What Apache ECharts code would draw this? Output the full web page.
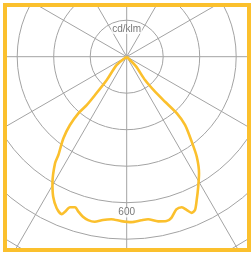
<!DOCTYPE html>
<html>
<head>
<meta charset="utf-8">
<script src="https://cdn.jsdelivr.net/npm/echarts@6/dist/echarts.min.js"></script>
<style>
html,body{margin:0;padding:0;background:#fff;}
#frame{position:absolute;left:3px;top:3px;width:240px;height:241px;border:4px solid #FBC02D;overflow:hidden;background:#fff;}
#chart{position:absolute;left:0;top:0;width:240px;height:241px;}
</style>
</head>
<body>
<div id="frame"><div id="chart"></div></div>
<script>
// gamma angle (deg, 0 = straight down, + = left, - = right)
const gammaAngles = [47, 50.3, 40.6, 39.6, 39.6, 40.5, 39.7, 37.8, 34.8, 33.9, 30.4, 27.7, 24.8, 22.45, 21.7, 20.6, 18.9, 17.3, 15.3, 13.3, 11, 8.3, 5.4, 1.9,
  -1.6, -5.1, -7.5, -10.8, -13.6, -15.5, -18, -20.1, -21.4, -22.6, -24, -26, -28.8, -31.8, -35, -37.4, -40.5, -41.5, -40.4, -39, -38.1, -44, -45];
// luminous intensity (cd/klm)
const intensity = [0, 53, 126, 204, 258, 306, 365, 425, 492, 528, 603, 650, 686, 700, 686, 661, 654, 667, 682, 690, 691, 678, 671, 676,
  680, 675, 674, 689, 695, 687, 660, 659, 677, 695, 690, 656, 610, 564, 502, 440, 369, 310, 243, 185, 122, 55, 0];
const radiusTicks = { min: 0, max: 1050, interval: 150 };
const unitLabel = 'cd/klm';
const ringLabel = '600';

const curve = intensity.map((v, i) => [v, gammaAngles[i]]);

const chart = echarts.init(document.getElementById('chart'), null, { renderer: 'canvas' });
const grey = '#a3a3a3';
const txt = { color: '#555', fontSize: 10, fontFamily: 'Liberation Sans, Arial, sans-serif', backgroundColor: '#fff', padding: [0, 1] };
chart.setOption({
  animation: false,
  polar: { center: [119.7, 49.7], radius: 255.5 },
  angleAxis: {
    type: 'value', min: -180, max: 180, interval: 30, startAngle: 90, clockwise: true,
    axisLine: { show: false }, axisTick: { show: false }, axisLabel: { show: false },
    splitLine: { show: true, lineStyle: { color: grey, width: 1 } }
  },
  radiusAxis: {
    type: 'value', min: radiusTicks.min, max: radiusTicks.max, interval: radiusTicks.interval,
    axisLine: { show: false }, axisTick: { show: false }, axisLabel: { show: false },
    splitLine: { show: true, lineStyle: { color: grey, width: 1 } }
  },
  series: [
    {
      type: 'line', coordinateSystem: 'polar', data: curve, smooth: 0.25,
      symbol: 'none', lineStyle: { color: '#FBC02D', width: 2.6 }, z: 3
    },
    {
      type: 'scatter', coordinateSystem: 'polar', symbolSize: 1, z: 4, silent: true,
      itemStyle: { color: 'rgba(0,0,0,0)' },
      label: { show: true, position: 'inside', ...txt },
      data: [
        { value: [114, 180], label: { formatter: unitLabel } },
        { value: [640, 0], label: { formatter: ringLabel } }
      ]
    }
  ]
});
</script>
</body>
</html>
